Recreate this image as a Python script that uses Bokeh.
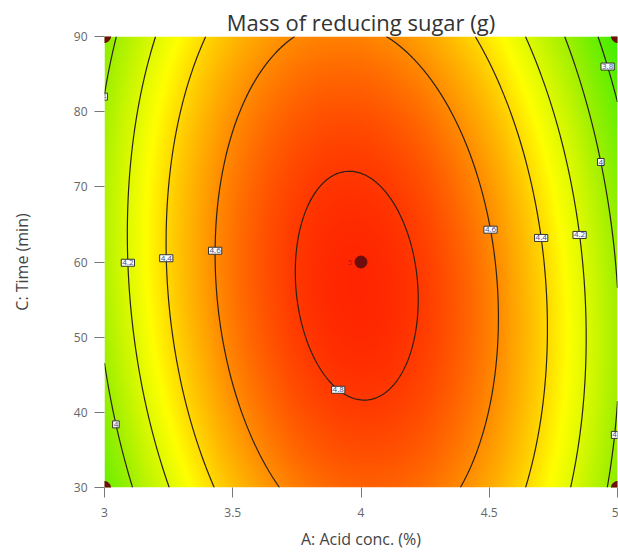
import numpy as np
from bokeh.plotting import figure
from bokeh.models import Range1d, FixedTicker
from bokeh.embed import file_html
from bokeh.resources import INLINE
from bokeh.core.properties import value

# ---- data: quadratic response model in coded units
coef_names = ["Intercept", "A", "C", "AC", "A^2", "C^2"]
coef_values = [4.844, -0.037, -0.040, -0.094, -0.820, -0.183]

acid_range = [3.0, 5.0]      # A: Acid conc. (%)
time_range = [30.0, 90.0]    # C: Time (min)

contour_levels = [3.8, 4.0, 4.2, 4.4, 4.6, 4.8]

# contour labels: level, time where label sits, side of the ridge
label_levels = [4.0, 4.0, 4.2, 4.4, 4.6, 4.8, 4.6, 4.4, 4.2, 4.0, 3.8, 4.0]
label_times = [82.0, 38.4, 59.9, 60.5, 61.5, 43.0, 64.3, 63.2, 63.6, 73.3, 86.0, 37.0]
label_sides = ["L", "L", "L", "L", "L", "L", "R", "R", "R", "R", "R", "R"]

design_acid = [3, 3, 5, 5, 4]
design_time = [30, 90, 30, 90, 60]
center_reps = ["5"]

x_ticks = [3, 3.5, 4, 4.5, 5]
y_ticks = [30, 40, 50, 60, 70, 80, 90]

# color scale stops (response value -> colour)
color_vals = [3.6, 4.0, 4.3, 4.55, 4.85]
color_r = [40, 160, 255, 255, 255]
color_g = [238, 240, 255, 160, 36]

b0, bA, bC, bAC, bAA, bCC = coef_values
a_mid = (acid_range[0] + acid_range[1]) / 2
a_half = (acid_range[1] - acid_range[0]) / 2
c_mid = (time_range[0] + time_range[1]) / 2
c_half = (time_range[1] - time_range[0]) / 2


def model(acid, time):
    a = (np.asarray(acid) - a_mid) / a_half
    c = (np.asarray(time) - c_mid) / c_half
    return b0 + bA * a + bC * c + bAC * a * c + bAA * a * a + bCC * c * c


def acid_on_level(level, time, side):
    c = (time - c_mid) / c_half
    A = bAA
    B = bA + bAC * c
    C = b0 + bC * c + bCC * c * c - level
    disc = max(B * B - 4 * A * C, 0.0)
    r1 = (-B + np.sqrt(disc)) / (2 * A)
    r2 = (-B - np.sqrt(disc)) / (2 * A)
    a = min(r1, r2) if side == "L" else max(r1, r2)
    return a_mid + a * a_half


# background image
nx, ny = 520, 460
gx = np.linspace(acid_range[0], acid_range[1], nx)
gy = np.linspace(time_range[0], time_range[1], ny)
GX, GY = np.meshgrid(gx, gy)
Z = model(GX, GY)
img = np.empty((ny, nx), dtype=np.uint32)
view = img.view(dtype=np.uint8).reshape((ny, nx, 4))
view[:, :, 0] = np.interp(Z, color_vals, color_r).astype(np.uint8)
view[:, :, 1] = np.interp(Z, color_vals, color_g).astype(np.uint8)
view[:, :, 2] = 0
view[:, :, 3] = 255

FONT = "Open Sans"

p = figure(width=618, height=552,
           x_range=Range1d(acid_range[0], acid_range[1]),
           y_range=Range1d(time_range[0], time_range[1]),
           output_backend="svg", toolbar_location=None,
           min_border_left=104, min_border_right=1,
           min_border_top=36, min_border_bottom=65,
           title="Mass of reducing sugar (g)")
p.title.align = "center"
p.title.text_font = FONT
p.title.text_font_size = "22px"
p.title.text_font_style = "normal"
p.title.text_color = "#333333"
p.title.standoff = 0
p.title.offset = 0
p.outline_line_color = None
p.grid.visible = False
p.background_fill_color = "white"

p.image_rgba(image=[img], x=acid_range[0], y=time_range[0],
             dw=acid_range[1] - acid_range[0], dh=time_range[1] - time_range[0])

cx = np.linspace(acid_range[0], acid_range[1], 301)
cy = np.linspace(time_range[0], time_range[1], 301)
CX, CY = np.meshgrid(cx, cy)
p.contour(x=cx, y=cy, z=model(CX, CY), levels=contour_levels,
          line_color="#2b2118", line_width=1.2, fill_color=None)

lx = [acid_on_level(l, t, s) for l, t, s in zip(label_levels, label_times, label_sides)]
ltxt = [f"{l:g}" for l in label_levels]
p.text(x=lx, y=label_times, text=ltxt, text_font=value(FONT), text_font_size="8px",
       text_color="#3a4a8a", text_align="center", text_baseline="middle",
       background_fill_color="white", border_line_color="#333333",
       border_line_width=1, padding=1)

p.scatter(x=design_acid, y=design_time, size=12, color="#6e0d0d")
p.text(x=[design_acid[-1]], y=[design_time[-1]], text=center_reps, x_offset=-11,
       text_font=value(FONT), text_font_size="7px", text_color="#b01010",
       text_align="center", text_baseline="middle")

p.xaxis.ticker = FixedTicker(ticks=x_ticks)
p.yaxis.ticker = FixedTicker(ticks=y_ticks)
p.xaxis.major_label_overrides = {t: f"{t:g}" for t in x_ticks}
p.xaxis.axis_label = "A: Acid conc. (%)"
p.yaxis.axis_label = "C: Time (min)"
for ax in (p.xaxis[0], p.yaxis[0]):
    ax.axis_line_color = None
    ax.major_tick_line_color = "#777777"
    ax.major_tick_out = 10
    ax.major_tick_in = 0
    ax.minor_tick_line_color = None
    ax.major_label_text_font = FONT
    ax.major_label_text_font_size = "12px"
    ax.major_label_text_color = "#666666"
    ax.axis_label_text_font = FONT
    ax.axis_label_text_font_size = "16px"
    ax.axis_label_text_font_style = "normal"
    ax.axis_label_text_color = "#444444"
p.xaxis.major_label_standoff = 10
p.yaxis.major_label_standoff = 7
p.xaxis.axis_label_standoff = 8
p.yaxis.axis_label_standoff = 38

open("out.html", "w").write(file_html(p, INLINE))
